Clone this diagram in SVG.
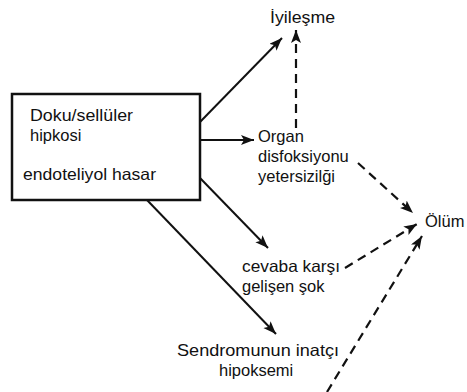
<svg xmlns="http://www.w3.org/2000/svg" width="467" height="392" viewBox="0 0 467 392">
<style>
text{font-family:"Liberation Sans",Arial,sans-serif;font-size:16.5px;fill:#111}
.s{stroke:#111;stroke-width:2;fill:none}
.d{stroke:#111;stroke-width:2.2;fill:none;stroke-dasharray:9,6}
</style>
<defs>
<marker id="ah" markerUnits="userSpaceOnUse" markerWidth="14" markerHeight="12" refX="13" refY="5" orient="auto">
<path d="M0,0 L13,5 L0,10 L3,5 z" fill="#111"/>
</marker>
</defs>
<rect width="467" height="392" fill="#fff"/>
<g id="connectors">
<line class="s" x1="200" y1="122" x2="282" y2="38" marker-end="url(#ah)"/>
<line class="s" x1="200" y1="140" x2="254" y2="140" marker-end="url(#ah)"/>
<line class="s" x1="200" y1="178" x2="268" y2="248" marker-end="url(#ah)"/>
<line class="s" x1="147" y1="200" x2="276" y2="334" marker-end="url(#ah)"/>
<line class="d" x1="296" y1="128" x2="296" y2="30" marker-end="url(#ah)"/>
<line class="d" x1="358" y1="163" x2="413" y2="213" marker-end="url(#ah)"/>
<line class="d" x1="345" y1="268" x2="417" y2="224" marker-end="url(#ah)"/>
<line class="d" x1="327" y1="392" x2="422" y2="236" marker-end="url(#ah)"/>
</g>
<g id="box">
<rect x="12" y="94" width="188" height="106" fill="#fff" stroke="#111" stroke-width="2.5"/>
<text x="30" y="121" textLength="103" lengthAdjust="spacingAndGlyphs">Doku/sellüler</text>
<text x="30" y="141">hipkosi</text>
<text x="23" y="180" textLength="133" lengthAdjust="spacingAndGlyphs">endoteliyol hasar</text>
</g>
<g id="iyilesme"><text x="270" y="23" textLength="65" lengthAdjust="spacingAndGlyphs">İyileşme</text></g>
<g id="organ">
<text x="258" y="142">Organ</text>
<text x="258" y="162">disfoksiyonu</text>
<text x="258" y="182">yetersizilği</text>
</g>
<g id="olum"><text x="425" y="227">Ölüm</text></g>
<g id="sok">
<text x="242" y="272" textLength="98" lengthAdjust="spacingAndGlyphs">cevaba karşı</text>
<text x="242" y="292">gelişen şok</text>
</g>
<g id="hipoksemi">
<text x="177" y="356" textLength="162" lengthAdjust="spacingAndGlyphs">Sendromunun inatçı</text>
<text x="219" y="376">hipoksemi</text>
</g>
</svg>
